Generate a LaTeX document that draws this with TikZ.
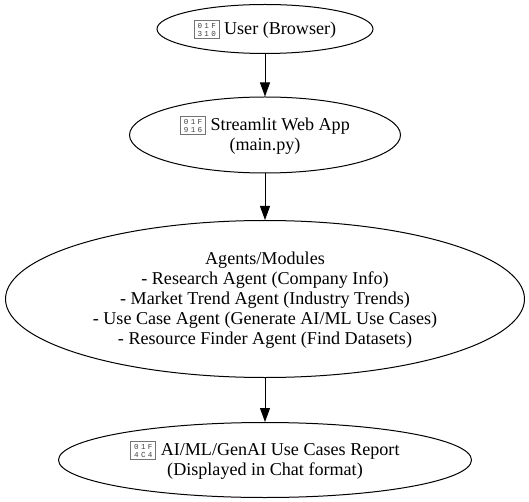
\documentclass[tikz,border=0pt]{standalone}
\usepackage{fontspec}
\setmainfont{Liberation Serif}
\newfontfamily\tofufont{Liberation Mono}[LetterSpace=30]
\usetikzlibrary{shapes.geometric}
\usetikzlibrary{arrows.meta}

% box with hex digits, stands for a missing emoji glyph
\newcommand{\tofu}[2]{\smash{\tikz[baseline=-5pt]{\node[tofubox] (box) {#1\\#2};}}}
% pushes the text of a node down a little
\newcommand{\toprule}{\rule{0pt}{15pt}}

\begin{document}
\begin{tikzpicture}[x=1pt, y=-1pt]
        % styles
        \tikzset{
            flownode/.style={ellipse, draw=black, line width=1pt, inner sep=0pt, align=center, font=\fontsize{18.1}{20}\selectfont},
            tofubox/.style={rectangle, draw=black!55, line width=0.8pt, align=center, inner sep=0pt, minimum width=25pt, minimum height=18pt, text=black!75, font=\tofufont\fontsize{7.6}{8}\selectfont},
            flow_edge/.style={line width=1pt, -{Triangle[length=14pt, width=10pt]}}
        }
        \useasboundingbox (0,0) rectangle (529,502);

        % nodes
        \node[flownode, minimum width=216pt, minimum height=49pt] (user) at (265,29) {\toprule\tofu{01F}{310} User (Browser)};
        \node[flownode, minimum width=271pt, minimum height=76pt] (app) at (265,135) {\toprule\tofu{01F}{916} Streamlit Web App\\(main.py)};
        \node[flownode, minimum width=519pt, minimum height=157pt] (agents) at (265,299) {\toprule Agents/Modules\\- Research Agent (Company Info)\\- Market Trend Agent (Industry Trends)\\- Use Case Agent (Generate AI/ML Use Cases)\\- Resource Finder Agent (Find Datasets)};
        \node[flownode, minimum width=413pt, minimum height=75pt] (report) at (265,460) {\toprule\tofu{01F}{4C4} AI/ML/GenAI Use Cases Report\\(Displayed in Chat format)};

        % edges
        \draw[flow_edge] (user) -- (app);
        \draw[flow_edge] (app) -- (agents);
        \draw[flow_edge] (agents) -- (report);
    \end{tikzpicture}
\end{document}
